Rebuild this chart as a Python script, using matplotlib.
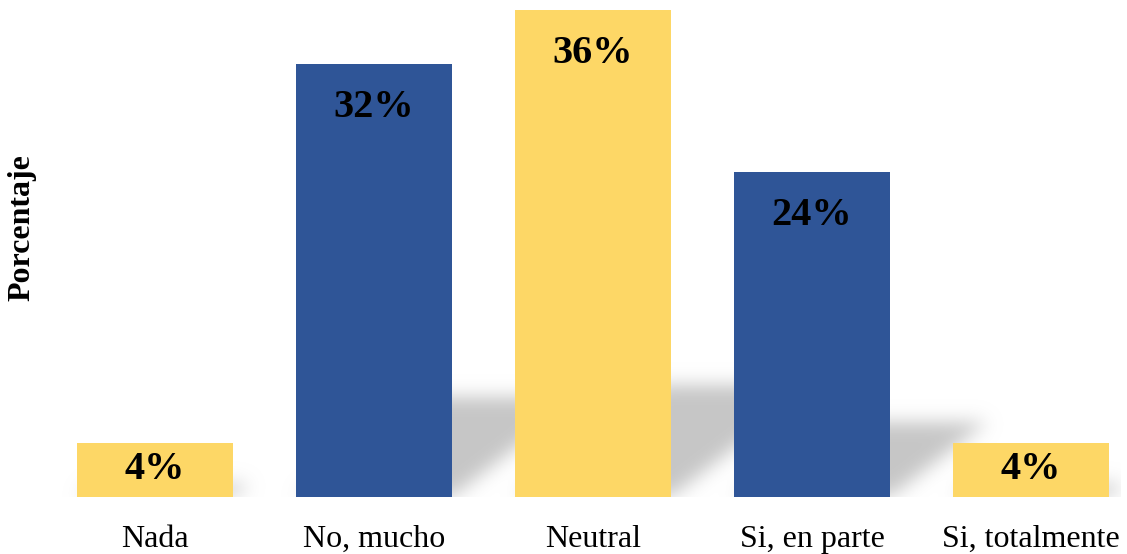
import numpy as np
import matplotlib
matplotlib.use("Agg")
import matplotlib.pyplot as plt
from matplotlib.path import Path

categorias = ["Nada", "No, mucho", "Neutral", "Si, en parte", "Si, totalmente"]
porcentajes = [4, 32, 36, 24, 4]
colores = ["#FDD766", "#2F5597", "#FDD766", "#2F5597", "#FDD766"]

plt.rcParams['font.family'] = ['Liberation Serif', 'DejaVu Serif']

fig = plt.figure(figsize=(11.27, 5.54), dpi=100)
ax = fig.add_axes([0.0532, 0.1029, 0.9406, 0.888])
x = np.arange(len(categorias))
ancho = 0.71
xmin, xmax, ymax = -0.4338, 4.406, 36.36
ax.set_xlim(xmin, xmax)
ax.set_ylim(0, ymax)

# sombra difusa detras de cada barra
nx, ny = 1060, 492
gx = np.linspace(xmin, xmax, nx)
gy = np.linspace(0, ymax, ny)
GX, GY = np.meshgrid(gx, gy)
pts = np.column_stack([GX.ravel(), GY.ravel()])
mask = np.zeros(GX.shape)
px_x = nx / (xmax - xmin)
px_y = ny / ymax
for xi, v in zip(x, porcentajes):
    hs = 0.23 * v
    dx = 1.3 * hs * px_y / px_x
    xl, xr = xi - ancho / 2, xi + ancho / 2
    poly = Path([(xl, 0), (xr, 0), (xr + dx, hs), (xl + dx, hs), (xl, 0)])
    mask = np.maximum(mask, poly.contains_points(pts).reshape(GX.shape))

sig = 9
k = np.arange(-3 * sig, 3 * sig + 1)
kern = np.exp(-k**2 / (2 * sig**2))
kern /= kern.sum()
mask = np.apply_along_axis(lambda r: np.convolve(r, kern, mode='same'), 1, mask)
mask = np.apply_along_axis(lambda c: np.convolve(c, kern, mode='same'), 0, mask)
img = np.zeros(mask.shape + (4,))
img[..., :3] = 0.78
img[..., 3] = np.clip(mask, 0, 1)
ax.imshow(img, extent=(xmin, xmax, 0, ymax), origin='lower', aspect='auto',
          zorder=0.5, interpolation='bilinear')

ax.bar(x, porcentajes, width=ancho, color=colores, zorder=2)

for xi, v in zip(x, porcentajes):
    yt = v / 2 if v < 10 else v - 3.2
    ax.text(xi, yt, f"{v}%", ha='center', va='center', fontsize=29,
            fontweight='bold', color='black', zorder=3)

ax.set_xticks(x)
ax.set_xticklabels(categorias, fontsize=23)
ax.tick_params(axis='x', length=0, pad=20)
ax.set_yticks([])
for s in ax.spines.values():
    s.set_visible(False)

fig.text(22 / 1127, 1 - 228 / 554, "Porcentaje", rotation=90, ha='center',
         va='center', fontsize=23, fontweight='bold')

fig.savefig("out.png", dpi=100)
